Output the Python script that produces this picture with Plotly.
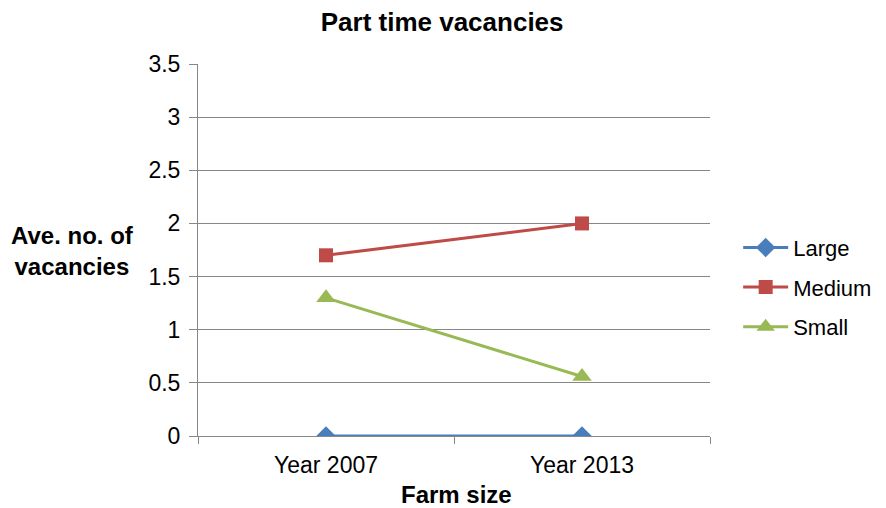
import plotly.graph_objects as go

categories = ["Year 2007", "Year 2013"]
large = [0, 0]
medium = [1.7, 2.0]
small = [1.3, 0.56]
y_ticks = [0, 0.5, 1, 1.5, 2, 2.5, 3, 3.5]
y_tick_labels = ["0", "0.5", "1", "1.5", "2", "2.5", "3", "3.5"]

FONT = "Liberation Sans, Arial, sans-serif"

fig = go.Figure()
fig.add_trace(go.Scatter(x=categories, y=large, name="Large", mode="lines+markers", legendgroup="a",
                         line=dict(color="#4A7EBB", width=3),
                         marker=dict(symbol="diamond", size=15, color="#4A7EBB")))
fig.add_trace(go.Scatter(x=categories, y=medium, name="Medium", mode="lines+markers", legendgroup="b",
                         line=dict(color="#BE4B48", width=3),
                         marker=dict(symbol="square", size=14, color="#BE4B48")))
fig.add_trace(go.Scatter(x=categories, y=small, name="Small", mode="lines+markers", legendgroup="c",
                         line=dict(color="#98B954", width=3),
                         marker=dict(symbol="triangle-up", size=17, color="#98B954")))

fig.update_layout(
    width=886, height=508,
    margin=dict(l=190, r=184, t=56, b=80, autoexpand=False),
    paper_bgcolor="white", plot_bgcolor="white",
    font=dict(family=FONT, size=23, color="black"),
    title=dict(text="<b>Part time vacancies</b>", x=0.49, xanchor="center", y=0.972, yanchor="middle",
               font=dict(size=26, family=FONT)),
    legend=dict(x=1.055, y=0.40, xanchor="left", yanchor="middle", font=dict(size=22),
                bgcolor="rgba(0,0,0,0)", tracegroupgap=8, traceorder="grouped", itemwidth=45),
    showlegend=True,
)
fig.update_xaxes(type="category", tickson="boundaries", ticks="outside", ticklen=7,
                 tickcolor="#878787", showline=True, linecolor="#878787", linewidth=1,
                 showgrid=False, range=[-0.5, 1.5], tickfont=dict(size=23), ticklabelstandoff=8)
fig.update_yaxes(range=[0, 3.5], tickvals=y_ticks, ticktext=y_tick_labels, ticks="outside",
                 ticklen=8, tickcolor="#878787", showline=True, linecolor="#878787", linewidth=1,
                 showgrid=True, gridcolor="#878787", gridwidth=1, zeroline=False,
                 tickfont=dict(size=23), ticklabelstandoff=4)
fig.add_annotation(text="<b>Ave. no. of<br>vacancies</b>", xref="paper", yref="paper",
                   x=-0.246, y=0.497, xanchor="center", yanchor="middle", showarrow=False,
                   font=dict(size=24, family=FONT), align="center")
fig.add_annotation(text="<b>Farm size</b>", xref="paper", yref="paper",
                   x=0.504, y=-0.156, xanchor="center", yanchor="middle", showarrow=False,
                   font=dict(size=24, family=FONT))

fig.write_html("out.html")
